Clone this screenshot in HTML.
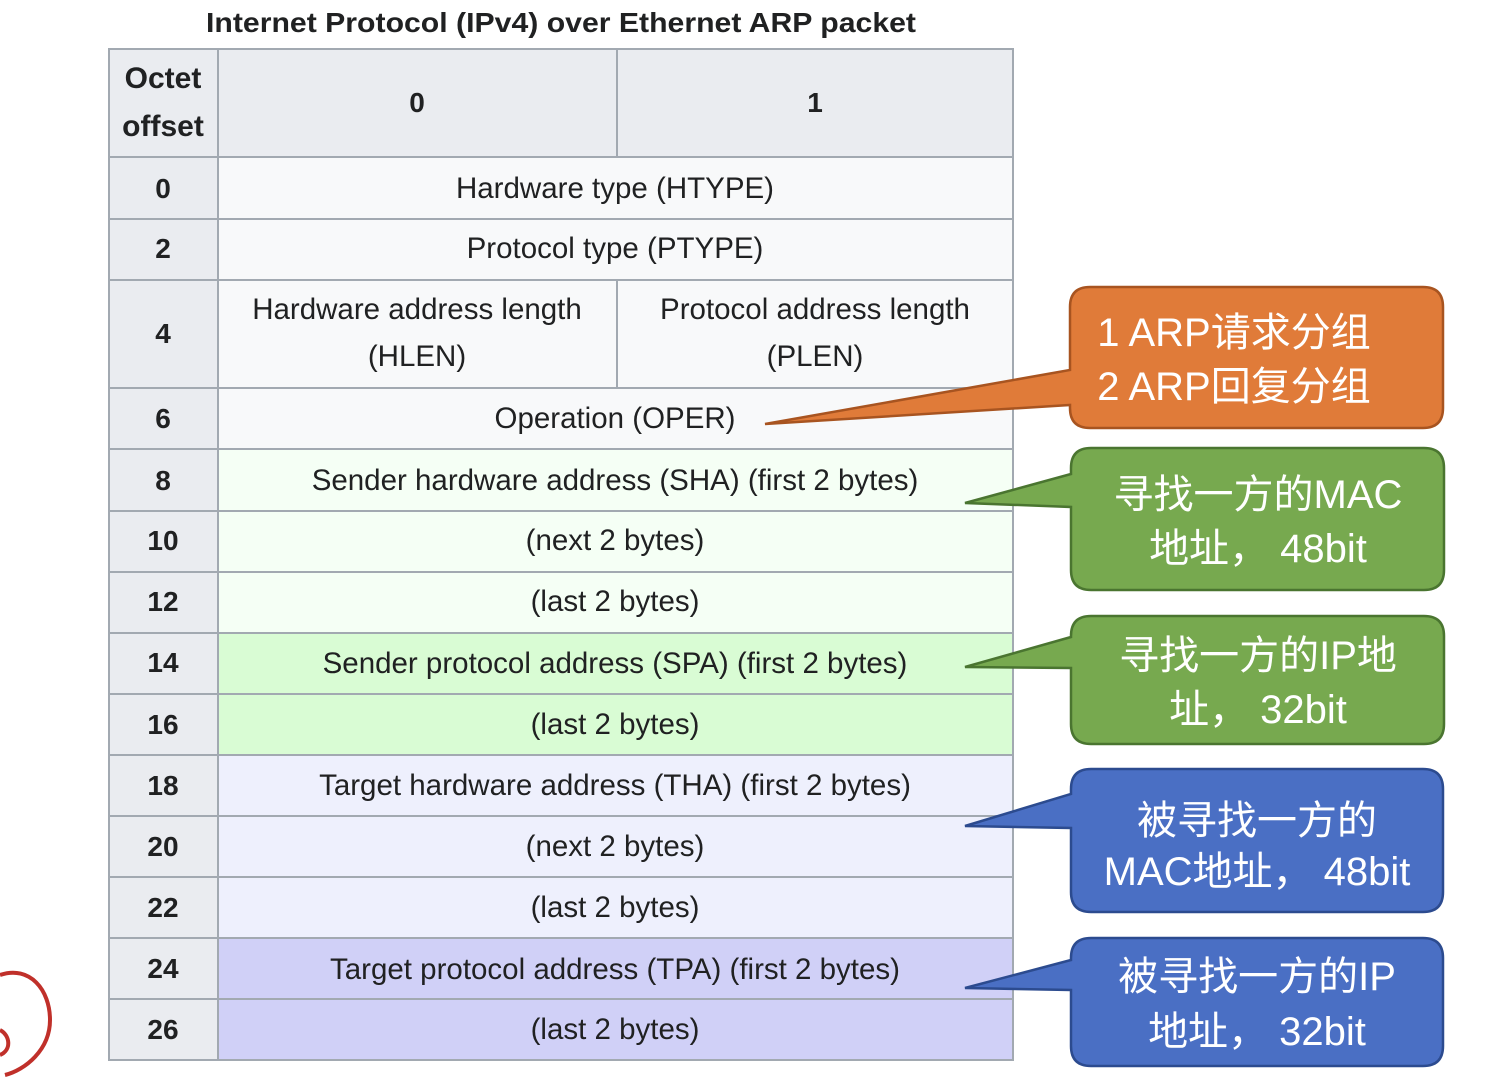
<!DOCTYPE html>
<html><head><meta charset="utf-8"><style>
html,body{margin:0;padding:0;background:#fff;}
svg{display:block;}
.t{font-family:"Liberation Sans",Arial,sans-serif;font-size:29.5px;fill:#202122;text-anchor:middle;}
.b{font-weight:bold;font-size:28px;}
.c{font-family:"Liberation Sans","Noto Sans CJK SC",sans-serif;font-size:40px;fill:#fff;text-anchor:middle;}
</style></head><body>
<svg width="1504" height="1078" viewBox="0 0 1504 1078" xmlns="http://www.w3.org/2000/svg">
<rect width="1504" height="1078" fill="#fff"/>
<text x="561" y="32" class="t b" font-size="26" textLength="710" lengthAdjust="spacingAndGlyphs">Internet Protocol (IPv4) over Ethernet ARP packet</text>
<g stroke="#a2a9b1" stroke-width="2">
<rect x="109" y="49" width="904" height="108" fill="#eaecf0"/>
<rect x="109" y="157" width="109" height="903" fill="#eaecf0"/>
<rect x="218" y="157" width="795" height="292" fill="#f8f9fa"/>
<rect x="218" y="449" width="795" height="184" fill="#f5fff5"/>
<rect x="218" y="633" width="795" height="122" fill="#d9fcd4"/>
<rect x="218" y="755" width="795" height="183" fill="#eef0fd"/>
<rect x="218" y="938" width="795" height="122" fill="#d0d0f7"/>
<line x1="218" y1="49" x2="218" y2="1060"/>
<line x1="617" y1="49" x2="617" y2="157"/>
<line x1="617" y1="280" x2="617" y2="388"/>
<line x1="109" y1="219" x2="1013" y2="219"/>
<line x1="109" y1="280" x2="1013" y2="280"/>
<line x1="109" y1="388" x2="1013" y2="388"/>
<line x1="109" y1="449" x2="1013" y2="449"/>
<line x1="109" y1="511" x2="1013" y2="511"/>
<line x1="109" y1="572" x2="1013" y2="572"/>
<line x1="109" y1="633" x2="1013" y2="633"/>
<line x1="109" y1="694" x2="1013" y2="694"/>
<line x1="109" y1="755" x2="1013" y2="755"/>
<line x1="109" y1="816" x2="1013" y2="816"/>
<line x1="109" y1="877" x2="1013" y2="877"/>
<line x1="109" y1="938" x2="1013" y2="938"/>
<line x1="109" y1="999" x2="1013" y2="999"/>
<rect x="109" y="49" width="904" height="1011" fill="none"/>
</g>
<g class="t b">
<text x="163" y="88" font-size="30">Octet</text><text x="163" y="136" font-size="30">offset</text>
<text x="417" y="112">0</text><text x="815" y="112">1</text>
<text x="163" y="198">0</text><text x="163" y="258">2</text><text x="163" y="343">4</text>
<text x="163" y="428">6</text><text x="163" y="490">8</text><text x="163" y="550">10</text>
<text x="163" y="611">12</text><text x="163" y="672">14</text><text x="163" y="734">16</text>
<text x="163" y="795">18</text><text x="163" y="856">20</text><text x="163" y="917">22</text>
<text x="163" y="978">24</text><text x="163" y="1039">26</text>
</g>
<g class="t">
<text x="615" y="198">Hardware type (HTYPE)</text>
<text x="615" y="258">Protocol type (PTYPE)</text>
<text x="417" y="319">Hardware address length</text><text x="417" y="366">(HLEN)</text>
<text x="815" y="319">Protocol address length</text><text x="815" y="366">(PLEN)</text>
<text x="615" y="428">Operation (OPER)</text>
<text x="615" y="490">Sender hardware address (SHA) (first 2 bytes)</text>
<text x="615" y="550">(next 2 bytes)</text>
<text x="615" y="611">(last 2 bytes)</text>
<text x="615" y="673">Sender protocol address (SPA) (first 2 bytes)</text>
<text x="615" y="734">(last 2 bytes)</text>
<text x="615" y="795">Target hardware address (THA) (first 2 bytes)</text>
<text x="615" y="856">(next 2 bytes)</text>
<text x="615" y="917">(last 2 bytes)</text>
<text x="615" y="979">Target protocol address (TPA) (first 2 bytes)</text>
<text x="615" y="1039">(last 2 bytes)</text>
</g>
<path d="M0 975 C30 965 50 990 50 1020 C50 1050 25 1070 5 1075 M0 1030 C10 1035 12 1050 0 1055" fill="none" stroke="#c0302a" stroke-width="4"/>
<g stroke-width="2.5">
<path d="M1090 287 H1423 Q1443 287 1443 307 V408 Q1443 428 1423 428 H1090 Q1070 428 1070 408 V405 L765 424 L1070 370 V307 Q1070 287 1090 287 Z" fill="#e07b39" stroke="#a85420"/>
<path d="M1091 448 H1424 Q1444 448 1444 468 V570 Q1444 590 1424 590 H1091 Q1071 590 1071 570 V507 L965 503 L1071 474 V468 Q1071 448 1091 448 Z" fill="#77a94f" stroke="#4a7530"/>
<path d="M1091 616 H1424 Q1444 616 1444 636 V724 Q1444 744 1424 744 H1091 Q1071 744 1071 724 V668 L965 667 L1071 637 V636 Q1071 616 1091 616 Z" fill="#77a94f" stroke="#4a7530"/>
<path d="M1091 769 H1423 Q1443 769 1443 789 V892 Q1443 912 1423 912 H1091 Q1071 912 1071 892 V828 L965 826 L1071 794 V789 Q1071 769 1091 769 Z" fill="#4a6fc4" stroke="#2c4b8f"/>
<path d="M1091 938 H1423 Q1443 938 1443 958 V1046 Q1443 1066 1423 1066 H1091 Q1071 1066 1071 1046 V990 L965 988 L1071 960 V958 Q1071 938 1091 938 Z" fill="#4a6fc4" stroke="#2c4b8f"/>
</g>
<g class="c">
<text x="1234" y="346">1 ARP请求分组</text>
<text x="1234" y="400">2 ARP回复分组</text>
<text x="1258" y="508">寻找一方的MAC</text>
<text x="1258" y="562">地址， 48bit</text>
<text x="1258" y="669">寻找一方的IP地</text>
<text x="1258" y="723">址， 32bit</text>
<text x="1257" y="834">被寻找一方的</text>
<text x="1257" y="885">MAC地址， 48bit</text>
<text x="1257" y="990">被寻找一方的IP</text>
<text x="1257" y="1045">地址， 32bit</text>
</g>
</svg>
</body></html>
